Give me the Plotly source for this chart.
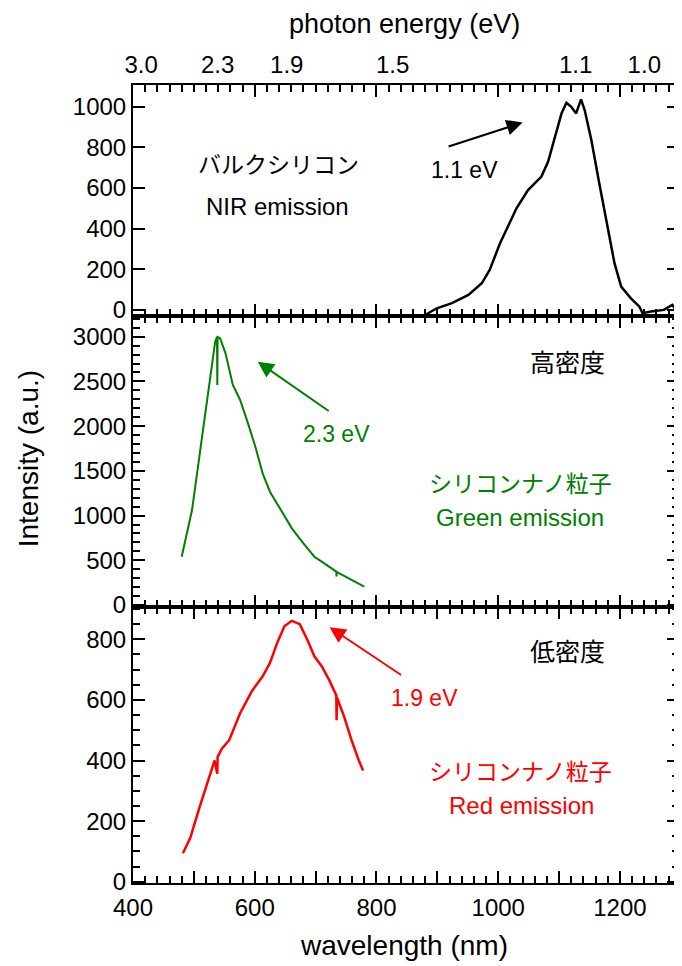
import plotly.graph_objects as go
from plotly.subplots import make_subplots

# ---------------- data ----------------
bulk_wl = [880, 899, 924, 951, 973, 986, 1003, 1016, 1030, 1049, 1071, 1082, 1093, 1104,
           1112, 1120, 1128, 1132, 1136, 1142, 1153, 1166, 1180, 1191, 1202, 1218, 1232,
           1237, 1251, 1272, 1286, 1294]
bulk_int = [-25, 8, 33, 74, 131, 197, 328, 410, 500, 590, 656, 730, 853, 967,
            1020, 1000, 967, 1008, 1036, 984, 836, 623, 394, 230, 115, 57, 16,
            -16, -8, 0, 25, -8]

green_wl = [480, 497, 512, 528, 535, 538, 538.5, 539, 543, 552, 564, 576, 588, 601, 613,
            625, 643, 661, 680, 698, 710, 734, 734.3, 734.6, 759, 780]
green_int = [540, 1062, 1808, 2628, 2944, 2995, 2460, 2995, 2982, 2814, 2460, 2292, 2050,
             1770, 1472, 1267, 1062, 857, 690, 540, 485, 373, 320, 370, 280, 205]

red_wl = [482, 494, 509, 525, 534, 538.5, 539, 546, 558, 576, 595, 613, 625, 637, 649,
          661, 674, 686, 698, 710, 722, 734, 734.5, 735, 747, 759, 771, 778]
red_int = [94, 144, 244, 344, 400, 356, 412, 439, 467, 556, 628, 678, 722, 789, 844,
           861, 850, 800, 744, 711, 667, 615, 533, 608, 544, 467, 400, 367]

energy_labels = [3.0, 2.3, 1.9, 1.5, 1.1, 1.0]
energy_pos = [1240.0 / e for e in energy_labels]

x_tickvals = list(range(400, 1301, 100))
x_ticktext = [str(v) if v % 200 == 0 else "" for v in x_tickvals]

# ---------------- figure ----------------
LAT = "Liberation Sans, Arial, sans-serif"
JP = "Noto Sans CJK JP, sans-serif"
GREEN = "#008000"
RED = "#ff0000"
TICK = 24

fig = make_subplots(rows=3, cols=1, shared_xaxes=True, vertical_spacing=0,
                    row_heights=[231, 291, 276])

fig.add_trace(go.Scatter(x=bulk_wl, y=bulk_int, mode="lines",
                         line=dict(color="black", width=2.5), showlegend=False), row=1, col=1)
fig.add_trace(go.Scatter(x=green_wl, y=green_int, mode="lines",
                         line=dict(color=GREEN, width=2), showlegend=False), row=2, col=1)
fig.add_trace(go.Scatter(x=red_wl, y=red_int, mode="lines",
                         line=dict(color=RED, width=2.5), showlegend=False), row=3, col=1)

xcommon = dict(range=[400, 1297], showline=True, linecolor="black", linewidth=2,
               mirror="ticks", ticks="inside", ticklen=12, tickwidth=1.5, tickcolor="black",
               tickmode="array", tickvals=x_tickvals, ticktext=x_ticktext,
               minor=dict(ticks="inside", ticklen=7, tickwidth=1.5, dtick=20, tick0=400,
                          tickcolor="black"),
               showgrid=False, zeroline=False,
               tickfont=dict(family=LAT, size=TICK, color="black"))
for r in (1, 2, 3):
    fig.update_xaxes(row=r, col=1, **xcommon)
fig.update_xaxes(row=3, col=1, showticklabels=True, ticklabelstandoff=2)
fig.update_xaxes(row=1, col=1, showticklabels=False)
fig.update_xaxes(row=2, col=1, showticklabels=False)

ycommon = dict(showline=True, linecolor="black", linewidth=2, mirror="ticks",
               ticks="inside", ticklen=12, tickwidth=1.5, tickcolor="black",
               showgrid=False, zeroline=False,
               tickfont=dict(family=LAT, size=TICK, color="black"))
fig.update_yaxes(row=1, col=1, range=[-30, 1107], dtick=200, tick0=0, **ycommon)
fig.update_yaxes(row=2, col=1, range=[-22, 3231], dtick=500, tick0=0,
                 minor=dict(ticks="inside", ticklen=7, tickwidth=1.5, dtick=100,
                            tickcolor="black"), **ycommon)
fig.update_yaxes(row=3, col=1, range=[-4.3, 906.6], dtick=200, tick0=0,
                 minor=dict(ticks="inside", ticklen=7, tickwidth=1.5, dtick=50,
                            tickcolor="black"), **ycommon)

# top photon-energy axis
fig.update_layout(xaxis4=dict(overlaying="x", anchor="y", side="top", range=[400, 1297],
                              tickmode="array", tickvals=energy_pos,
                              ticktext=[f"{e:.1f}" for e in energy_labels],
                              ticks="", showline=False, showgrid=False, zeroline=False,
                              ticklabelstandoff=6,
                              tickfont=dict(family=LAT, size=TICK, color="black")))
fig.add_trace(go.Scatter(x=[400], y=[None], xaxis="x4", yaxis="y", showlegend=False,
                         hoverinfo="skip"))

ann = []
def txt(x, y, yref, s, color="black", size=24, family=LAT):
    ann.append(dict(x=x, y=y, xref="x", yref=yref, text=s, showarrow=False,
                    font=dict(family=family, size=size, color=color),
                    xanchor="center", yanchor="middle"))
def arrow(x0, y0, x1, y1, xr, yr, color):
    ann.append(dict(x=x1, y=y1, ax=x0, ay=y0, xref=xr, yref=yr, axref=xr, ayref=yr,
                    text="", showarrow=True, arrowhead=2, arrowsize=1.6,
                    arrowwidth=2, arrowcolor=color))

# top panel
txt(639, 723, "y", "バルクシリコン", size=23, family=JP)
txt(637, 511, "y", "NIR emission", size=24)
txt(944, 689, "y", "1.1 eV", size=23)
arrow(916, 802, 1040, 922, "x", "y", "black")
# middle panel
txt(1113, 2728, "y2", "高密度", size=25, family=JP)
txt(735, 1912, "y2", "2.3 eV", color=GREEN, size=23)
arrow(724, 2158, 605, 2720, "x2", "y2", GREEN)
txt(1036, 1375, "y2", "シリコンナノ粒子", color=GREEN, size=23, family=JP)
txt(1036, 984, "y2", "Green emission", color=GREEN, size=24)
# bottom panel
txt(1114, 765, "y3", "低密度", size=25, family=JP)
txt(879, 606, "y3", "1.9 eV", color=RED, size=23)
arrow(843, 679, 723, 840, "x3", "y3", RED)
txt(1036, 369, "y3", "シリコンナノ粒子", color=RED, size=23, family=JP)
txt(1038, 250, "y3", "Red emission", color=RED, size=24)

# axis titles
ann.append(dict(x=0.497, y=1.0, xref="paper", yref="paper", yshift=61, text="photon energy (eV)",
                showarrow=False, font=dict(family=LAT, size=27, color="black"),
                xanchor="center", yanchor="middle"))
ann.append(dict(x=0.497, y=0, xref="paper", yref="paper", yshift=-62, text="wavelength (nm)",
                showarrow=False, font=dict(family=LAT, size=28, color="black"),
                xanchor="center", yanchor="middle"))
ann.append(dict(x=0, y=0.531, xref="paper", yref="paper", xshift=-105, text="Intensity (a.u.)",
                textangle=-90, showarrow=False, font=dict(family=LAT, size=28, color="black"),
                xanchor="center", yanchor="middle"))

fig.update_layout(width=674, height=958, margin=dict(l=125, r=1, t=77, b=83),
                  plot_bgcolor="white", paper_bgcolor="white", annotations=ann,
                  showlegend=False)

fig.write_html("out.html")
